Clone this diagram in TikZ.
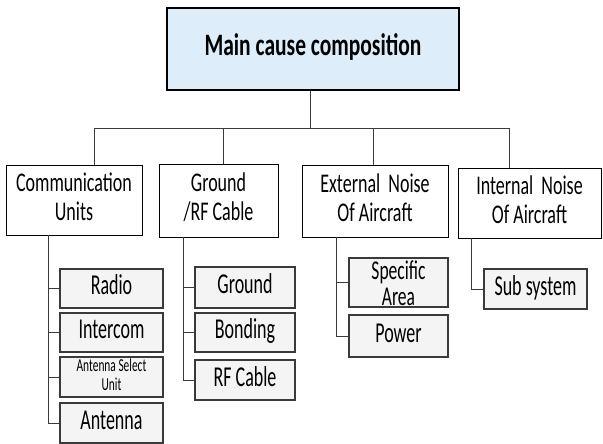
\documentclass[tikz,border=0pt]{standalone}
\usepackage{fontspec}
\usepackage{graphicx}
\setmainfont{Carlito}
\definecolor{mainfill}{HTML}{DDEDFA}
\definecolor{childfill}{HTML}{F4F4F4}
\definecolor{linegray}{HTML}{3A3A3A}
\newcommand{\stx}[2][1.4]{\scalebox{1}[#1]{\begin{tabular}{@{}c@{}}#2\end{tabular}}}
\tikzset{
  mainbox/.style={draw=black, line width=1.4pt, fill=mainfill, inner sep=0pt},
  topbox/.style={draw=black, line width=0.8pt, fill=white, inner sep=0pt},
  childbox/.style={draw=linegray, line width=1.3pt, fill=childfill, inner sep=0pt},
  conn/.style={draw=linegray, line width=0.9pt},
}
\begin{document}
\begin{tikzpicture}[x=1pt,y=-1pt]
\useasboundingbox (0,0) rectangle (603,444);
% main
\node[mainbox, minimum width=292pt, minimum height=82pt] (main) at (313,49)
  {\fontsize{21.5}{24}\selectfont\bfseries\stx[1.45]{Main cause composition}};
% level 1
\node[topbox, minimum width=136pt, minimum height=70pt] (cu) at (74,200)
  {\fontsize{18}{19.5}\selectfont\stx[1.5]{Communication\\Units}};
\node[topbox, minimum width=119pt, minimum height=73pt] (gr) at (218.5,200.5)
  {\fontsize{18}{19.5}\selectfont\stx[1.5]{Ground\\/RF Cable}};
\node[topbox, minimum width=146pt, minimum height=72pt] (en) at (375,201)
  {\fontsize{18}{19.5}\selectfont\stx[1.5]{External~ Noise\\Of Aircraft}};
\node[topbox, minimum width=143pt, minimum height=70pt] (in) at (529.5,203)
  {\fontsize{18}{19.5}\selectfont\stx[1.5]{Internal~ Noise\\Of Aircraft}};
% bus
\coordinate (bus) at (310,128);
\coordinate (cuT) at (48,235);
\coordinate (grT) at (183,237);
\coordinate (enT) at (336,237);
\coordinate (inT) at (471,238);
\draw[conn] (main.south -| bus) -- (bus);
\draw[conn] (cu.north -| 94,0) |- (bus);
\draw[conn] (gr.north -| 223,0) |- (bus);
\draw[conn] (en.north -| 373,0) |- (bus);
\draw[conn] (in.north -| 509,0) |- (bus);
% children
\node[childbox, minimum width=103pt, minimum height=39pt] (radio) at (111.5,288.5)
  {\fontsize{18}{20}\selectfont\stx[1.6]{Radio}};
\node[childbox, minimum width=103pt, minimum height=39pt] (intercom) at (111.5,332.5)
  {\fontsize{18}{20}\selectfont\stx[1.6]{Intercom}};
\node[childbox, minimum width=103pt, minimum height=40pt] (asu) at (111.5,377)
  {\fontsize{11.4}{12}\selectfont\stx[1.6]{Antenna Select\\Unit}};
\node[childbox, minimum width=103pt, minimum height=40pt] (antenna) at (111.5,423)
  {\fontsize{18}{20}\selectfont\stx[1.6]{Antenna}};
\node[childbox, minimum width=100pt, minimum height=41pt] (ground) at (245,287.5)
  {\fontsize{18}{20}\selectfont\stx[1.6]{Ground}};
\node[childbox, minimum width=100pt, minimum height=39pt] (bonding) at (245,332.5)
  {\fontsize{18}{20}\selectfont\stx[1.6]{Bonding}};
\node[childbox, minimum width=100pt, minimum height=40pt] (rfcable) at (245,380)
  {\fontsize{18}{20}\selectfont\stx[1.6]{RF Cable}};
\node[childbox, minimum width=99pt, minimum height=49pt] (specific) at (398.5,282.5) {};
\node[inner sep=0pt] (specifictext) at (398.5,287)
  {\fontsize{17.5}{17}\selectfont\stx[1.55]{Specific\\Area}};
\node[childbox, minimum width=99pt, minimum height=42pt] (power) at (398.5,336)
  {\fontsize{18}{20}\selectfont\stx[1.6]{Power}};
\node[childbox, minimum width=103pt, minimum height=40pt] (subsys) at (535.5,289)
  {\fontsize{18}{20}\selectfont\stx[1.6]{Sub system}};
% child connectors
\foreach \c in {radio,intercom,asu,antenna} \draw[conn] (cuT) |- (\c.west);
\foreach \c in {ground,bonding,rfcable} \draw[conn] (grT) |- (\c.west);
\foreach \c in {specific,power} \draw[conn] (enT) |- (\c.west);
\draw[conn] (inT) |- (subsys.west);
\end{tikzpicture}
\end{document}
